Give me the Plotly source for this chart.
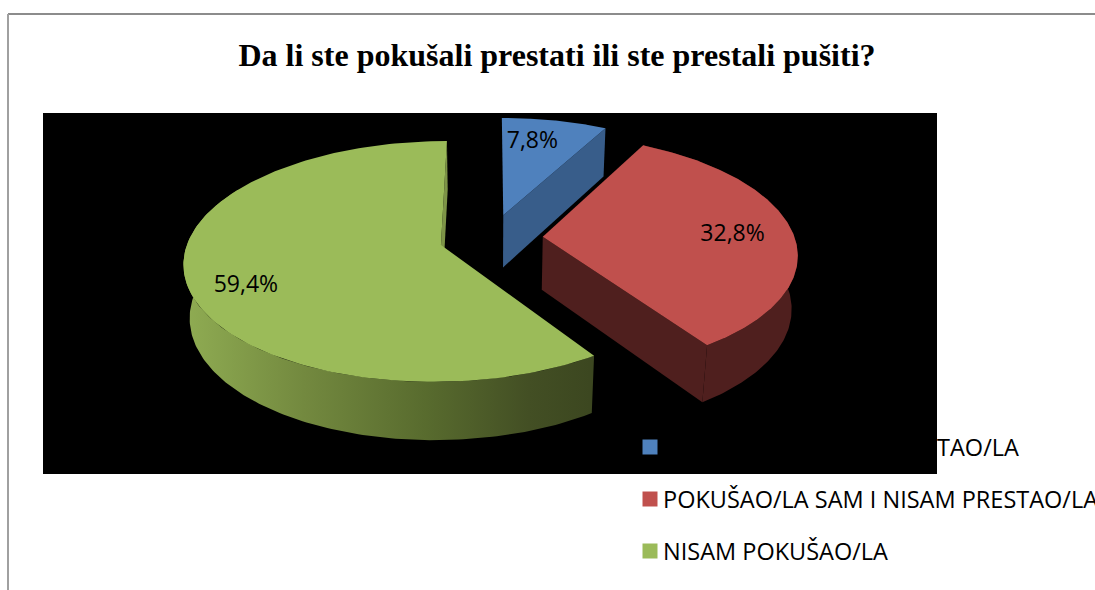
import numpy as np
import plotly.graph_objects as go

TITLE = "Da li ste pokušali prestati ili ste prestali pušiti?"
CATEGORIES = ["POKUŠAO/LA SAM I PRESTAO/LA", "POKUŠAO/LA SAM I NISAM PRESTAO/LA", "NISAM POKUŠAO/LA"]
VALUES = [7.8, 32.8, 59.4]
VALUE_LABELS = ["7,8%", "32,8%", "59,4%"]
TOP_COLORS = ["#4F81BD", "#C0504D", "#9BBB59"]
WALL_COLORS = ["#385D8A", "#4F1F1E", "#7D9447"]

W, H = 1095, 590
CX, CY = 491.0, 238.0      # projected pie centre
A, B = 252.0, 116.3        # projected radii
PERSP = 0.135              # perspective strength
EXPLODE = 0.206            # slice explosion
DEPTH = 54.0               # pie thickness
DEPTH_W = 0.02
LABEL_R = 0.76
LABEL_FONT = "Open Sans"


def project(X, Y, low=False):
    X, Y = np.asarray(X, float), np.asarray(Y, float)
    w = 1 + PERSP * Y + (DEPTH_W if low else 0.0)
    return CX + A * X / w, CY + (-B * Y + (DEPTH if low else 0.0)) / w


def polygon(fig, xs, ys, color=None, gradient=None, name=None):
    kw = dict(fillgradient=gradient) if gradient else dict(fillcolor=color)
    fig.add_trace(go.Scatter(x=np.asarray(xs).tolist(), y=np.asarray(ys).tolist(), mode="lines",
                             line=dict(width=0), fill="toself", hoverinfo="skip",
                             showlegend=False, name=name, **kw))


fig = go.Figure()
edges = np.cumsum([0] + VALUES) / sum(VALUES) * 2 * np.pi
mids = (edges[:-1] + edges[1:]) / 2
offx, offy = EXPLODE * np.sin(mids), EXPLODE * np.cos(mids)


def arc(i, t0=None, t1=None):
    t0 = edges[i] if t0 is None else t0
    t1 = edges[i + 1] if t1 is None else t1
    t = np.linspace(t0, t1, 160)
    return offx[i] + np.sin(t), offy[i] + np.cos(t)


# green: outer wall with gradient, and thin closing wall
i = 2
X, Y = arc(i, edges[i], np.radians(300))
xt, yt = project(X, Y)
xb, yb = project(X, Y, low=True)
polygon(fig, np.r_[xt, xb[::-1]], np.r_[yt, yb[::-1]],
        gradient=dict(type="horizontal", start=181, stop=590,
                      colorscale=[[0, "#90AD53"], [0.3, "#73893F"], [0.6, "#586B2E"], [0.85, "#434F24"], [1, "#3C4720"]]))
X1, Y1 = offx[i] + np.array([0, np.sin(edges[i + 1])]), offy[i] + np.array([0, np.cos(edges[i + 1])])
xt, yt = project(X1, Y1)
xb, yb = project(X1, Y1, low=True)
polygon(fig, [xt[0], xt[1], xb[1], xb[0]], [yt[0], yt[1], yb[1], yb[0]], color=WALL_COLORS[i])

# red: outer wall
i = 1
X, Y = arc(i)
xt, yt = project(X, Y)
xb, yb = project(X, Y, low=True)
polygon(fig, np.r_[xt, xb[::-1]], np.r_[yt, yb[::-1]], color=WALL_COLORS[i])

# blue and red radial walls facing the viewer
for i in (0, 1):
    X1 = offx[i] + np.array([0, np.sin(edges[i + 1])])
    Y1 = offy[i] + np.array([0, np.cos(edges[i + 1])])
    xt, yt = project(X1, Y1)
    xb, yb = project(X1, Y1, low=True)
    polygon(fig, [xt[0], xt[1], xb[1], xb[0]], [yt[0], yt[1], yb[1], yb[0]], color=WALL_COLORS[i])

# top faces
for i, cat in enumerate(CATEGORIES):
    X, Y = arc(i)
    xt, yt = project(np.r_[offx[i], X], np.r_[offy[i], Y])
    polygon(fig, xt, yt, color=TOP_COLORS[i], name=cat)

# value labels
lx, ly = project(offx + LABEL_R * np.sin(mids), offy + LABEL_R * np.cos(mids))
lx = lx + np.array([-11, 0, -3])
ly = ly + np.array([1, 3, 14])
fig.add_trace(go.Scatter(x=lx.tolist(), y=ly.tolist(), mode="text", text=VALUE_LABELS,
                         textfont=dict(family=LABEL_FONT, size=23, color="#000000"),
                         textposition="middle center", hoverinfo="skip", showlegend=False))

# legend
LEG_X, LEG_TX = 650, 661
LEG_Y = [447, 499, 551]
fig.add_trace(go.Scatter(x=[LEG_X] * 3, y=LEG_Y, mode="markers",
                         marker=dict(symbol="square", size=15, color=TOP_COLORS, line=dict(width=0)),
                         hoverinfo="skip", showlegend=False))
annotations = [dict(x=LEG_TX, y=y, text=c, showarrow=False, xanchor="left", yanchor="middle",
                    xref="x", yref="y", font=dict(family=LABEL_FONT, size=23.5, color="#000000"))
               for c, y in zip(CATEGORIES, LEG_Y)]

fig.update_layout(
    width=W, height=H, margin=dict(l=0, r=0, t=0, b=0),
    paper_bgcolor="#FFFFFF", plot_bgcolor="#FFFFFF", showlegend=False,
    title=dict(text=TITLE, x=557 / W, xanchor="center", y=1 - 55 / H, yanchor="middle",
               font=dict(family="Liberation Serif", size=32, color="#000000", weight="bold")),
    xaxis=dict(range=[0, W], visible=False, fixedrange=True),
    yaxis=dict(range=[H, 0], visible=False, fixedrange=True),
    annotations=annotations,
    shapes=[
        dict(type="rect", x0=43, x1=937, y0=113, y1=474, xref="x", yref="y", layer="below",
             fillcolor="#000000", line=dict(width=0)),
        dict(type="line", x0=8, x1=W, y0=14, y1=14, xref="x", yref="y", layer="below",
             line=dict(color="#8C8C8C", width=2)),
        dict(type="line", x0=8, x1=8, y0=14, y1=H, xref="x", yref="y", layer="below",
             line=dict(color="#A0A0A0", width=2)),
    ],
)
fig.write_html("out.html", config={"displayModeBar": False},
               post_script="document.body.style.margin='0';document.body.style.overflow='hidden';")
